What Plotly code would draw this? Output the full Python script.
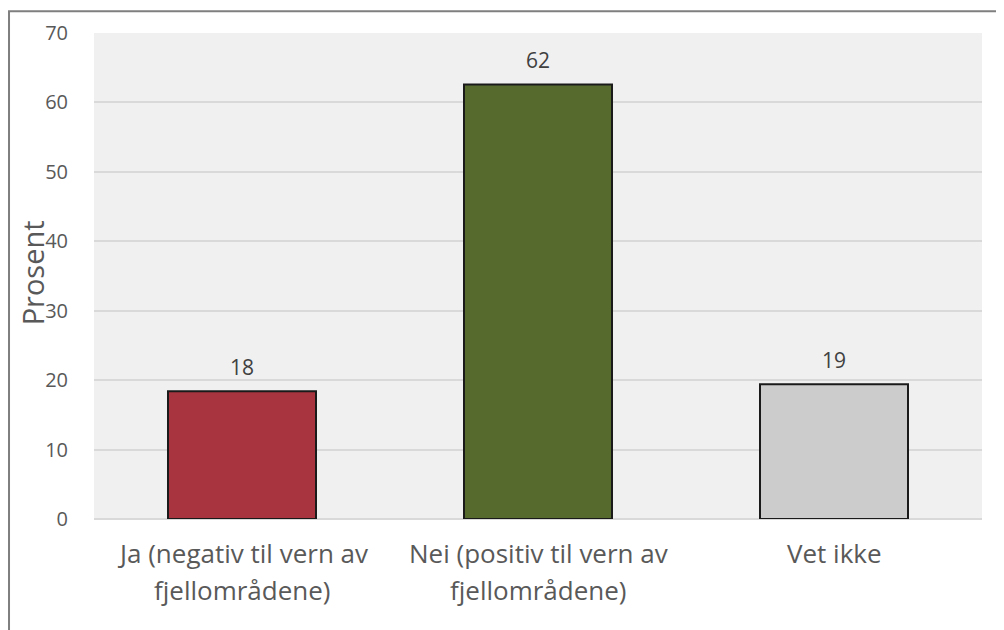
import plotly.graph_objects as go

categories = ["Ja (negativ til vern av fjellområdene)",
              "Nei (positiv til vern av fjellområdene)",
              "Vet ikke"]
label_line1 = ["Ja (negativ til vern av", "Nei (positiv til vern av", "Vet ikke"]
label_line2 = ["fjellområdene)", "fjellområdene)", ""]
values = [18.4, 62.6, 19.4]
value_labels = ["18", "62", "19"]
colors = ["#A8343F", "#576A2E", "#CCCCCC"]
y_ticks = [0, 10, 20, 30, 40, 50, 60, 70]

font = "Open Sans, Segoe UI, sans-serif"
tcol = "#595959"

fig = go.Figure()
fig.add_trace(go.Bar(
    x=categories, y=values, width=0.5,
    marker=dict(color=colors, line=dict(color="#1a1a1a", width=2)),
    hoverinfo="skip",
))

ann = []
for c, v, t in zip(categories, values, value_labels):
    ann.append(dict(x=c, y=v, xref="x", yref="y", text=t, showarrow=False,
                    yanchor="bottom", yshift=8,
                    font=dict(family=font, size=21, color="#404040")))
for c, l1, l2 in zip(categories, label_line1, label_line2):
    ann.append(dict(x=c, y=-0.07, xref="x", yref="paper", text=l1, showarrow=False,
                    yanchor="middle", font=dict(family=font, size=26, color=tcol)))
    if l2:
        ann.append(dict(x=c, y=-0.146, xref="x", yref="paper", text=l2, showarrow=False,
                        yanchor="middle", font=dict(family=font, size=26, color=tcol)))
ann.append(dict(x=-0.0695, y=0.506, xref="paper", yref="paper", text="Prosent",
                showarrow=False, textangle=-90, xanchor="center", yanchor="middle",
                font=dict(family=font, size=29, color=tcol)))

fig.update_layout(
    width=1004, height=630,
    margin=dict(l=86, r=30, t=25, b=119),
    paper_bgcolor="white",
    plot_bgcolor="#F0F0F0",
    showlegend=False,
    annotations=ann,
    shapes=[dict(type="rect", xref="paper", yref="paper",
                 x0=-0.0957, x1=1.2, y0=-0.4, y1=1.045,
                 line=dict(color="#7F7F7F", width=2), fillcolor="rgba(0,0,0,0)",
                 layer="below")],
    xaxis=dict(showticklabels=False, showgrid=False, zeroline=False, showline=False),
    yaxis=dict(range=[0, 70], tickvals=y_ticks, showgrid=True, gridcolor="#D9D9D9",
               gridwidth=2, zeroline=True, zerolinecolor="#D9D9D9", zerolinewidth=2,
               ticks="outside", ticklen=21, tickcolor="rgba(0,0,0,0)",
               tickfont=dict(family=font, size=20, color=tcol)),
)
fig.write_html("out.html")
